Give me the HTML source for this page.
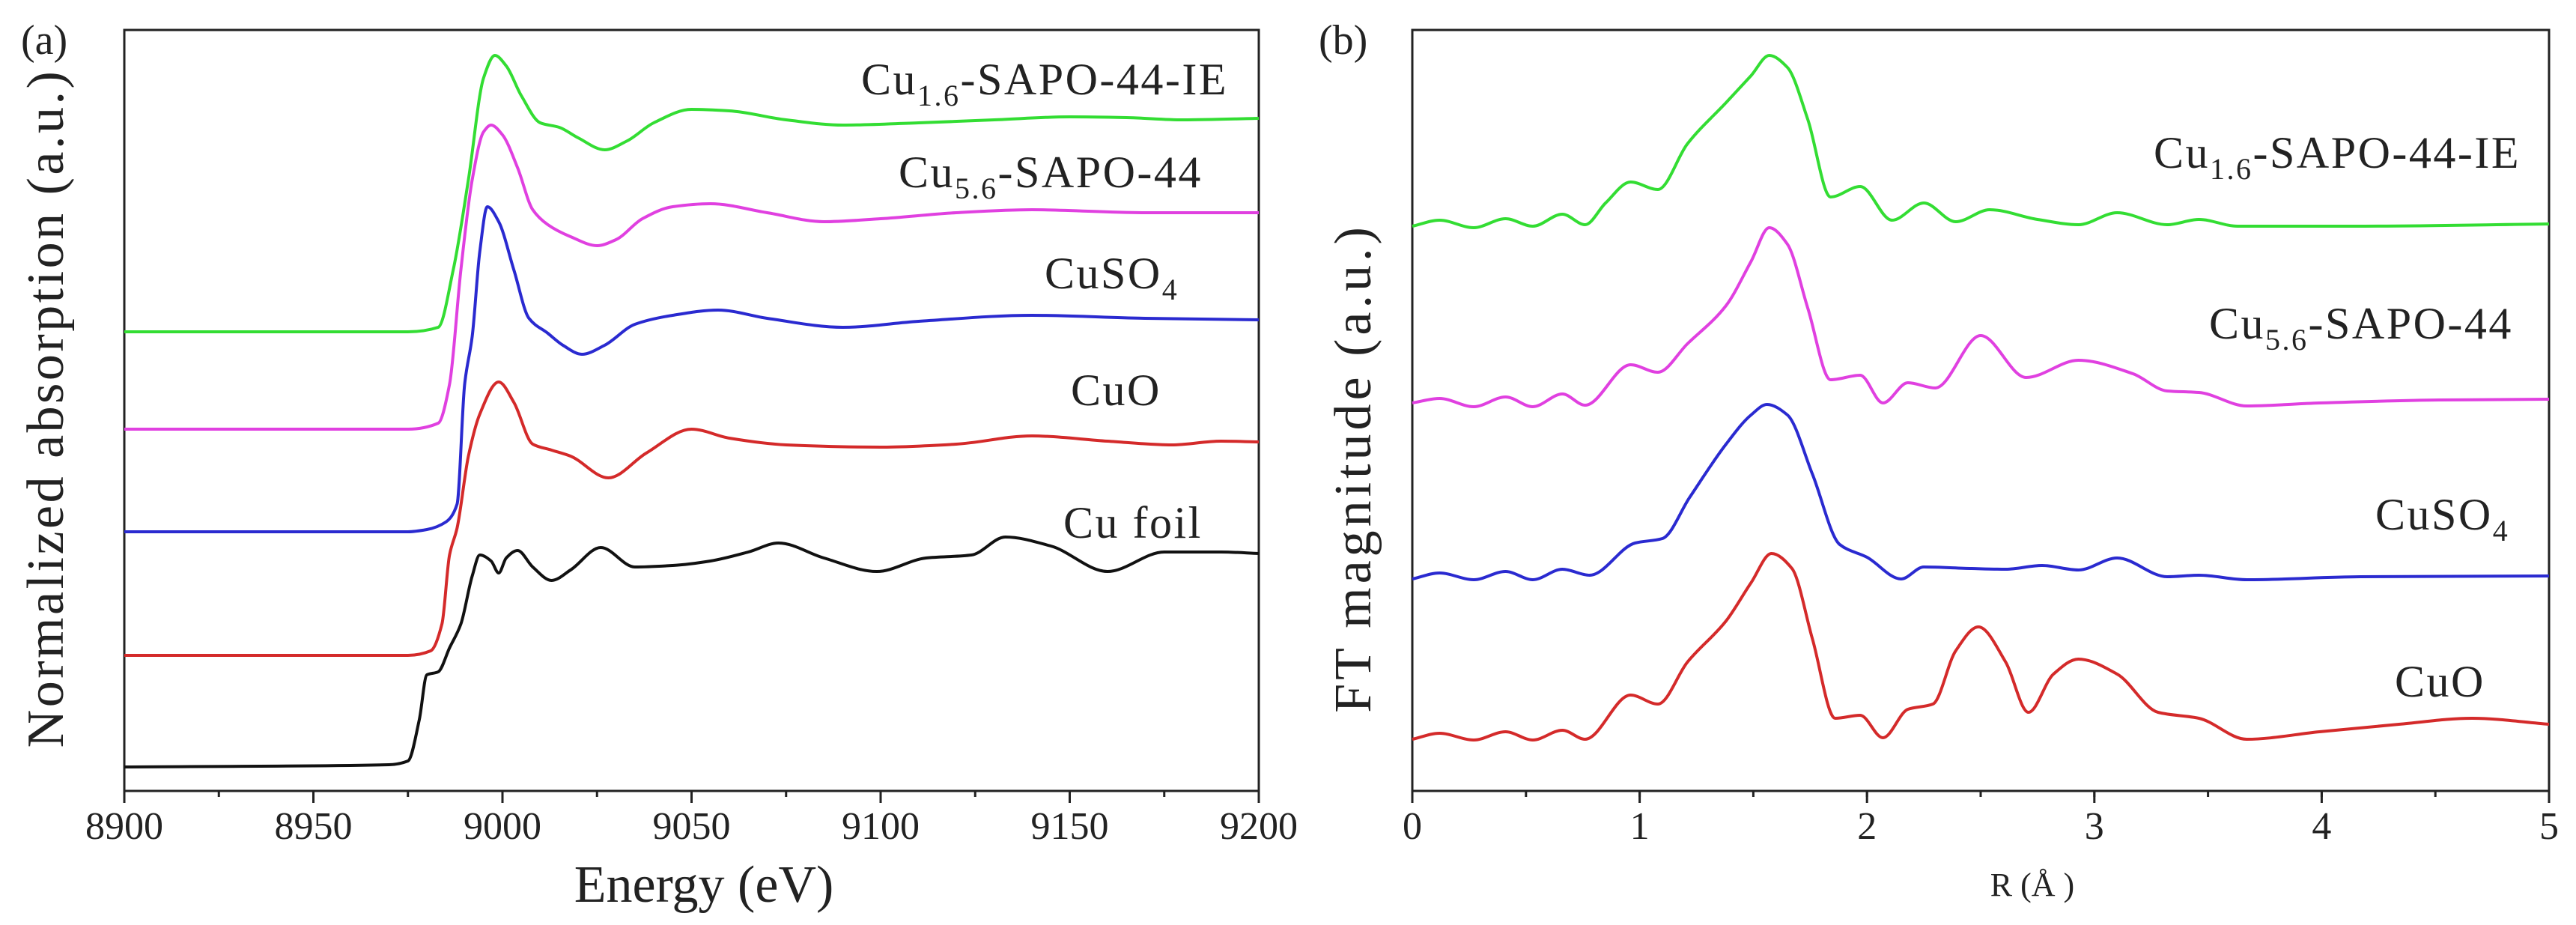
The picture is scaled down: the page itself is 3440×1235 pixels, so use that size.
<!DOCTYPE html>
<html><head><meta charset="utf-8"><style>
body{margin:0;background:#fff;}
svg{display:block;font-family:"Liberation Serif",serif;}
</style></head><body>
<svg id="chart" width="3440" height="1235" viewBox="0 0 3440 1235"></svg>
<script>
// Panel (a) XANES data
const eGreen=[8900,8975,8983,8987,8991,8995,8998,9001,9005,9010,9015,9020,9027,9033,9040,9050,9060,9075,9090,9110,9130,9150,9165,9180,9200];
const vGreen=[6.13,6.13,6.19,6.96,8.16,9.52,9.82,9.68,9.28,8.92,8.86,8.72,8.56,8.68,8.92,9.10,9.08,8.96,8.89,8.92,8.96,9.00,8.99,8.96,8.98];
const eMag=[8900,8975,8983,8986,8989,8992,8995,8997,9000,9004,9008,9012,9018,9025,9030,9037,9045,9055,9070,9085,9100,9120,9140,9170,9200];
const vMag=[4.83,4.83,4.91,5.43,6.96,8.16,8.80,8.89,8.76,8.32,7.76,7.56,7.40,7.28,7.36,7.64,7.80,7.84,7.72,7.60,7.64,7.72,7.76,7.72,7.72];
const eBlue=[8900,8975,8980,8985,8988,8990,8992,8994,8996,8999,9003,9007,9012,9016,9021,9027,9035,9045,9057,9070,9090,9110,9140,9170,9200];
const vBlue=[3.46,3.46,3.49,3.59,3.83,5.43,6.07,7.20,7.80,7.60,6.96,6.31,6.11,5.95,5.83,5.95,6.23,6.35,6.42,6.31,6.19,6.27,6.35,6.31,6.29];
const eRed=[8900,8975,8981,8984,8986,8988,8991,8994,8999,9003,9008,9013,9018,9028,9038,9050,9060,9075,9100,9120,9140,9160,9177,9190,9200];
const vRed=[1.81,1.81,1.87,2.23,3.15,3.51,4.47,5.03,5.46,5.19,4.63,4.55,4.47,4.18,4.51,4.83,4.71,4.62,4.59,4.63,4.74,4.67,4.62,4.67,4.66];
const eBlack=[8900,8970,8975,8978,8980,8983,8986,8989,8992,8994,8997,8999,9001,9004,9008,9013,9018,9026,9035,9045,9055,9065,9073,9085,9099,9112,9124,9133,9145,9160,9175,9190,9200];
const vBlack=[0.32,0.35,0.40,0.95,1.55,1.59,1.91,2.23,2.87,3.15,3.07,2.91,3.11,3.21,2.99,2.81,2.95,3.25,2.99,3.01,3.07,3.19,3.31,3.11,2.93,3.11,3.15,3.39,3.27,2.93,3.19,3.19,3.17];
const ticksA=[8900,8950,9000,9050,9100,9150,9200];
// Panel (b) FT data
const rGreen=[0,.12,.27,.41,.53,.66,.76,.85,.96,1.08,1.21,1.38,1.49,1.57,1.65,1.74,1.84,1.97,2.11,2.25,2.39,2.54,2.75,2.93,3.10,3.32,3.46,3.63,4.17,5];
const fGreen=[7.54,7.62,7.52,7.64,7.54,7.70,7.56,7.85,8.13,8.03,8.64,9.19,9.55,9.82,9.66,8.96,7.93,8.07,7.62,7.85,7.60,7.76,7.63,7.56,7.72,7.56,7.63,7.54,7.54,7.57];
const rMag=[0,.12,.27,.41,.53,.66,.76,.96,1.08,1.21,1.38,1.49,1.57,1.65,1.74,1.84,1.97,2.07,2.18,2.30,2.50,2.70,2.93,3.17,3.32,3.46,3.67,3.99,4.52,5];
const fMag=[5.18,5.24,5.13,5.26,5.13,5.30,5.15,5.69,5.59,5.97,6.48,7.07,7.52,7.30,6.44,5.49,5.55,5.18,5.45,5.38,6.08,5.52,5.75,5.57,5.34,5.32,5.14,5.18,5.22,5.23];
const rBlue=[0,.12,.27,.41,.53,.66,.78,.98,1.10,1.22,1.38,1.49,1.56,1.65,1.76,1.88,2.00,2.15,2.25,2.46,2.61,2.77,2.93,3.10,3.32,3.46,3.67,4.17,5];
const fBlue=[2.83,2.91,2.82,2.93,2.82,2.96,2.88,3.31,3.37,3.92,4.63,5.02,5.16,5.02,4.23,3.29,3.12,2.83,2.99,2.97,2.96,3.01,2.95,3.11,2.86,2.88,2.82,2.86,2.87];
const rRed=[0,.12,.27,.41,.53,.66,.76,.96,1.08,1.21,1.38,1.49,1.58,1.67,1.76,1.86,1.97,2.07,2.18,2.29,2.39,2.49,2.61,2.71,2.82,2.93,3.10,3.28,3.46,3.67,3.99,4.34,4.66,5];
const fRed=[0.69,0.77,0.68,0.79,0.68,0.81,0.69,1.28,1.16,1.72,2.27,2.78,3.17,2.97,2.03,0.97,1.01,0.71,1.09,1.16,1.87,2.19,1.72,1.05,1.56,1.76,1.56,1.05,0.97,0.69,0.79,0.89,0.97,0.89];
const ticksB=[0,1,2,3,4,5];

const NS="http://www.w3.org/2000/svg";
const svg=document.getElementById('chart');
function mk(tag,attrs,parent){const e=document.createElementNS(NS,tag);for(const k in attrs)e.setAttribute(k,attrs[k]);(parent||svg).appendChild(e);return e;}
const Y0=1056,YT=40;
function yS(v){return Y0-(v/10.16)*(Y0-YT);}
// monotone cubic (Fritsch-Carlson) to avoid overshoot
function smooth(pts){const n=pts.length,d=[],m=[];
 for(let i=0;i<n-1;i++)d.push((pts[i+1][1]-pts[i][1])/(pts[i+1][0]-pts[i][0]));
 m[0]=d[0];m[n-1]=d[n-2];
 for(let i=1;i<n-1;i++){if(d[i-1]*d[i]<=0)m[i]=0;else{const h0=pts[i][0]-pts[i-1][0],h1=pts[i+1][0]-pts[i][0];const w1=2*h1+h0,w2=h1+2*h0;m[i]=(w1+w2)/(w1/d[i-1]+w2/d[i]);}}
 let s='M'+pts[0][0].toFixed(1)+','+pts[0][1].toFixed(1);
 for(let i=0;i<n-1;i++){const h=(pts[i+1][0]-pts[i][0])/3;
  s+=' C'+(pts[i][0]+h).toFixed(1)+','+(pts[i][1]+m[i]*h).toFixed(1)+' '+(pts[i+1][0]-h).toFixed(1)+','+(pts[i+1][1]-m[i+1]*h).toFixed(1)+' '+pts[i+1][0].toFixed(1)+','+pts[i+1][1].toFixed(1);}
 return s;}
function series(xs,vs,xf,color,name){const pts=xs.map((x,i)=>[xf(x),yS(vs[i])]);
 const p=mk('path',{d:smooth(pts),fill:'none',stroke:color,'stroke-width':4,'stroke-linejoin':'round'});
 
 }
function panel(L,R,x0,x1,ticks,minorStep,fmt,pre){
 const xf=x=>L+(x-x0)/(x1-x0)*(R-L);
 const box=mk('rect',{x:L,y:YT,width:R-L,height:Y0-YT,fill:'none',stroke:'#222','stroke-width':3});
 
 
 for(let t=x0;t<=x1+1e-9;t+=minorStep){const m=mk('line',{x1:xf(t),x2:xf(t),y1:Y0,y2:Y0+8,stroke:'#222','stroke-width':3});
  
  }
 ticks.forEach(t=>{const l=mk('line',{x1:xf(t),x2:xf(t),y1:Y0,y2:Y0+16,stroke:'#222','stroke-width':3});
  
  
  const tx=mk('text',{x:xf(t),y:1120,'text-anchor':'middle','font-size':52,fill:'#222'});tx.textContent=fmt(t);
  
  });
 return xf;}
const xa=panel(166,1681,8900,9200,ticksA,25,t=>t,'a');
const xb=panel(1886,3404,0,5,ticksB,0.5,t=>t,'b');
series(eBlack,vBlack,xa,'#111','a-cu-foil-line');
series(eRed,vRed,xa,'#d42a2a','a-cuo-line');
series(eBlue,vBlue,xa,'#2a2ad0','a-cuso4-line');
series(eMag,vMag,xa,'#e040e0','a-cu56-line');
series(eGreen,vGreen,xa,'#33dd33','a-cu16-line');
series(rRed,fRed,xb,'#d42a2a','b-cuo-line');
series(rBlue,fBlue,xb,'#2a2ad0','b-cuso4-line');
series(rMag,fMag,xb,'#e040e0','b-cu56-line');
series(rGreen,fGreen,xb,'#33dd33','b-cu16-line');
</script>
<svg width="3440" height="1235" style="position:absolute;left:0;top:0" font-family="Liberation Serif, serif" fill="#222">
 <text x="28" y="72" font-size="56">(a)</text>
 <text x="1761" y="72" font-size="56">(b)</text>
 <text x="940" y="1204" font-size="70" text-anchor="middle">Energy (eV)</text>
 <text transform="translate(84,545) rotate(-90)" font-size="70" letter-spacing="3.5" text-anchor="middle">Normalized absorption (a.u.)</text>
 <text x="2714" y="1196" font-size="44" text-anchor="middle">R (Å )</text>
 <text transform="translate(1830,625) rotate(-90)" font-size="70" letter-spacing="5" text-anchor="middle">FT magnitude (a.u.)</text>
 <g font-size="60" letter-spacing="2.5">
 <text x="1150" y="126">Cu<tspan font-size="40" dy="15">1.6</tspan><tspan dy="-15">-SAPO-44-IE</tspan></text>
 <text x="1200" y="250">Cu<tspan font-size="40" dy="15">5.6</tspan><tspan dy="-15">-SAPO-44</tspan></text>
 <text x="1395" y="385">CuSO<tspan font-size="40" dy="15">4</tspan></text>
 <text x="1430" y="541">CuO</text>
 <text x="1420" y="718">Cu foil</text>
 <text x="2876" y="224">Cu<tspan font-size="40" dy="15">1.6</tspan><tspan dy="-15">-SAPO-44-IE</tspan></text>
 <text x="2950" y="452">Cu<tspan font-size="40" dy="15">5.6</tspan><tspan dy="-15">-SAPO-44</tspan></text>
 <text x="3172" y="707">CuSO<tspan font-size="40" dy="15">4</tspan></text>
 <text x="3198" y="930">CuO</text>
 </g>
</svg>
</body></html>
